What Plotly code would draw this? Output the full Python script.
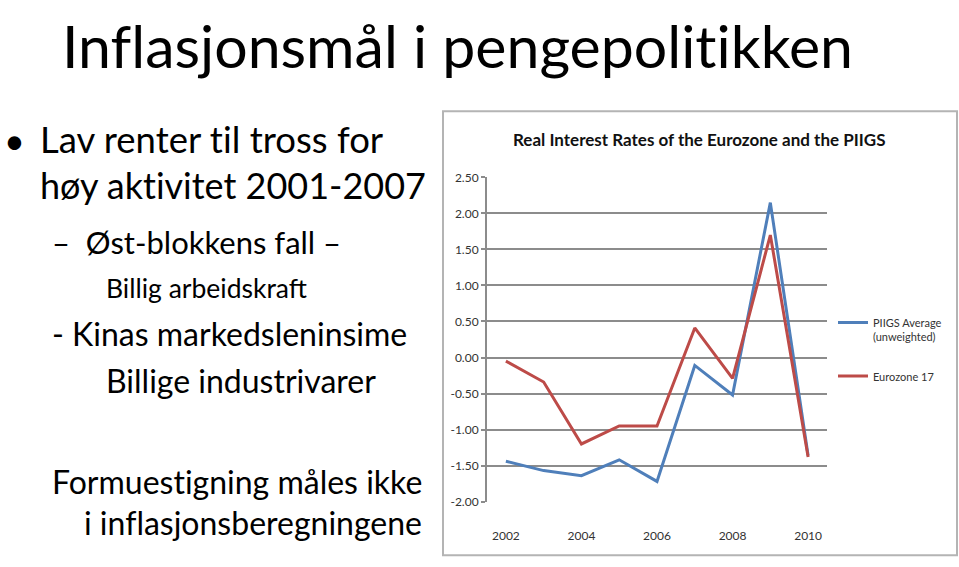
import plotly.graph_objects as go

years = [2002, 2003, 2004, 2005, 2006, 2007, 2008, 2009, 2010]
piigs_avg = [-1.44, -1.57, -1.64, -1.42, -1.72, -0.11, -0.52, 2.15, -1.36]
eurozone17 = [-0.05, -0.34, -1.20, -0.95, -0.95, 0.41, -0.29, 1.70, -1.38]
y_ticks = [-2.0, -1.5, -1.0, -0.5, 0.0, 0.5, 1.0, 1.5, 2.0, 2.5]
y_tick_labels = ["-2.00", "-1.50", "-1.00", "-0.50", "0.00", "0.50", "1.00", "1.50", "2.00", "2.50"]
x_ticks = [2002, 2004, 2006, 2008, 2010]
series_names = ["PIIGS Average<br>(unweighted)", "Eurozone 17"]

slide_title = "Inflasjonsmål i pengepolitikken"
chart_title = "Real Interest Rates of the Eurozone and the PIIGS"

W, H = 959, 567
def px(x):
    return x / W
def py(y):
    return 1 - y / H

FONT = "Lato"
grid = "#8c8c8c"

def nolig(t):
    for a, b in (("ti", "t\u200ci"), ("fl", "f\u200cl"), ("fi", "f\u200ci"), ("ff", "f\u200cf")):
        t = t.replace(a, b)
    return t

fig = go.Figure()
fig.add_trace(go.Scatter(x=years, y=piigs_avg, mode="lines", name=series_names[0],
                         legendgroup="a", line=dict(color="#4F7FBA", width=3)))
fig.add_trace(go.Scatter(x=years, y=eurozone17, mode="lines", name=series_names[1],
                         legendgroup="b", line=dict(color="#BD4B48", width=3)))

fig.update_layout(
    width=W, height=H,
    margin=dict(l=0, r=0, t=0, b=0),
    paper_bgcolor="white", plot_bgcolor="white",
    font=dict(family=FONT, color="#333333"),
    xaxis=dict(domain=[px(487), px(827)], range=[2001.5, 2010.5],
               tickvals=x_ticks, showgrid=False, showline=False, zeroline=False,
               ticks="", ticklabelstandoff=25, tickfont=dict(size=12, color="#333333")),
    yaxis=dict(domain=[py(507), py(174)], range=[-2.0, 2.5],
               tickvals=y_ticks, ticktext=y_tick_labels,
               showgrid=True, gridcolor=grid, gridwidth=2,
               showline=True, linecolor=grid, linewidth=2,
               ticks="outside", ticklen=4, tickwidth=2, tickcolor=grid,
               zeroline=False, tickfont=dict(size=12, color="#333333")),
    legend=dict(x=px(833), y=py(309), xanchor="left", yanchor="top",
                font=dict(size=11, color="#333333", family=FONT),
                valign="top", bgcolor="rgba(0,0,0,0)", itemwidth=30,
                traceorder="grouped", tracegroupgap=22),
    showlegend=True,
)

fig.add_shape(type="rect", xref="paper", yref="paper",
              x0=px(443), x1=px(957), y0=py(562), y1=py(106),
              line=dict(color="#b4b4b4", width=2), layer="below")

def text(t, x, y, size, anchor="left", bold=False, color="#000000", yanchor="middle"):
    t = nolig(t)
    fig.add_annotation(text=("<b>%s</b>" % t) if bold else t, xref="paper", yref="paper",
                       x=px(x), y=py(y), xanchor=anchor, yanchor=yanchor,
                       showarrow=False, font=dict(family=FONT, size=size, color=color))

text(chart_title, 699, 135, 17, anchor="center", bold=True, color="#111111")
text(slide_title, 60, 0, 59, yanchor="top")
text("•", 14, 136, 36, anchor="center")
text("Lav renter til tross for", 38, 135, 36.5)
text("høy aktivitet 2001-2007", 38, 182, 36)
text("–  Øst-blokkens fall –", 50, 240, 31)
text("Billig arbeidskraft", 104, 288, 26.5)
text("- Kinas markedsleninsime", 50, 334, 32)
text("Billige industrivarer", 104, 383, 32)
text("Formuestigning måles ikke", 424, 486, 32, anchor="right")
text("i inflasjonsberegningene", 424, 528, 32, anchor="right")

fig.write_html("out.html")
